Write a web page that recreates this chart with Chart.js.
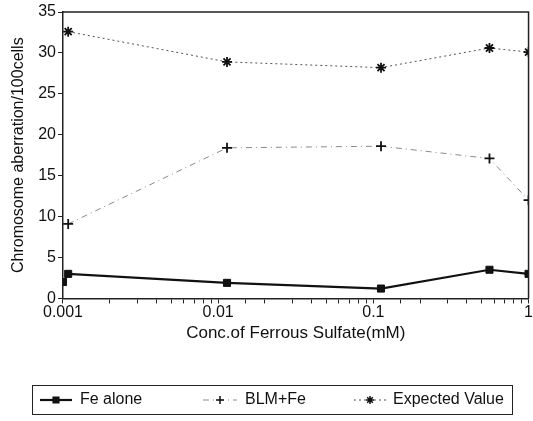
<!DOCTYPE html>
<html>
<head>
<meta charset="utf-8">
<script src="https://cdn.jsdelivr.net/npm/chart.js@4"></script>
<style>
  html, body { margin: 0; padding: 0; background: #fff; }
  #wrap { width: 533px; height: 421px; }
</style>
</head>
<body>
<div id="wrap"><canvas id="myChart" width="533" height="421"></canvas></div>
<script>
// values
const concFe = [0.001, 0.00108, 0.0114, 0.112, 0.56, 1];
const feAlone = [2.0, 3.0, 1.9, 1.2, 3.5, 3.0];
const concBlm = [0.00108, 0.0114, 0.112, 0.56, 1];
const blmFe = [9.1, 18.4, 18.6, 17.1, 12.0];
const expectedValue = [32.6, 28.9, 28.2, 30.6, 30.1];
const yTicks = [0, 5, 10, 15, 20, 25, 30, 35];
const seriesNames = ["Fe alone", "BLM+Fe", "Expected Value"];

const FONT = "'Liberation Sans', Arial, sans-serif";
const pts = (xs, ys) => xs.map((x, i) => ({ x: x, y: ys[i] }));

// frame round the plot area + legend box at the bottom
const framePlugin = {
  id: "frame",
  afterDraw(chart) {
    const ctx = chart.ctx;
    const a = chart.chartArea;
    ctx.save();
    ctx.strokeStyle = "#222";
    ctx.lineWidth = 1.5;
    ctx.beginPath();
    ctx.moveTo(a.left, a.top);
    ctx.lineTo(a.right, a.top);
    ctx.lineTo(a.right, a.bottom);
    ctx.stroke();

    // legend
    ctx.lineWidth = 1;
    ctx.strokeStyle = "#222";
    ctx.strokeRect(32.5, 385.5, 480, 29);
    const y = 400;
    const items = [
      { ds: 0, x1: 40, x2: 72, tx: 80 },
      { ds: 1, x1: 203, x2: 237, tx: 245 },
      { ds: 2, x1: 354, x2: 386, tx: 393 },
    ];
    items.forEach((it) => {
      const ds = chart.data.datasets[it.ds];
      ctx.save();
      ctx.strokeStyle = ds.borderColor;
      ctx.lineWidth = ds.borderWidth;
      ctx.setLineDash(ds.borderDash || []);
      ctx.beginPath();
      ctx.moveTo(it.x1, y);
      ctx.lineTo(it.x2, y);
      ctx.stroke();
      ctx.restore();
      ctx.save();
      ctx.fillStyle = "#111";
      ctx.strokeStyle = "#111";
      ctx.lineWidth = 1.5;
      Chart.helpers.drawPoint(ctx, { pointStyle: ds.pointStyle, radius: ds.pointRadius - 1, rotation: 0, borderWidth: 1.5 }, (it.x1 + it.x2) / 2, y);
      ctx.restore();
      ctx.fillStyle = "#111";
      ctx.font = "16px " + FONT;
      ctx.textBaseline = "middle";
      ctx.fillText(ds.label, it.tx, y);
    });
    ctx.restore();
  },
};

const ctx = document.getElementById("myChart").getContext("2d");
const myChart = new Chart(ctx, {
  type: "line",
  data: {
    datasets: [
      {
        label: seriesNames[0],
        data: pts(concFe, feAlone),
        borderColor: "#111",
        backgroundColor: "#111",
        borderWidth: 2.2,
        pointStyle: "rect",
        pointRadius: 5,
        pointBorderWidth: 1,
      },
      {
        label: seriesNames[1],
        data: pts(concBlm, blmFe),
        borderColor: "#8a8a8a",
        backgroundColor: "#111",
        pointBorderColor: "#111",
        borderWidth: 1,
        borderDash: [6, 4, 1, 4],
        pointStyle: "cross",
        pointRadius: 5,
        pointBorderWidth: 1.8,
      },
      {
        label: seriesNames[2],
        data: pts(concBlm, expectedValue),
        borderColor: "#555",
        backgroundColor: "#111",
        pointBorderColor: "#111",
        borderWidth: 1,
        borderDash: [2, 3],
        pointStyle: "star",
        pointRadius: 5,
        pointBorderWidth: 1.8,
      },
    ],
  },
  options: {
    responsive: false,
    animation: false,
    layout: { autoPadding: false, padding: { top: 12, right: 3, bottom: 77, left: 9 } },
    plugins: {
      legend: { display: false },
      tooltip: { enabled: false },
    },
    scales: {
      x: {
        type: "logarithmic",
        min: 0.001,
        max: 1,
        grid: { drawOnChartArea: false, drawTicks: true, tickLength: 5, color: "#222" },
        border: { color: "#222", width: 1.5 },
        ticks: {
          autoSkip: false,
          maxRotation: 0,
          color: "#111",
          font: { family: FONT, size: 16 },
          padding: 0,
          callback: (v) => {
            const l = Math.log10(v);
            return Math.abs(l - Math.round(l)) < 1e-9 ? String(Number(v.toPrecision(1))) : "";
          },
        },
        title: {
          display: true,
          text: "Conc.of Ferrous Sulfate(mM)",
          color: "#111",
          font: { family: FONT, size: 17 },
          padding: { top: 1, bottom: 0 },
        },
      },
      y: {
        min: yTicks[0],
        max: yTicks[yTicks.length - 1],
        afterBuildTicks: (axis) => {
          axis.ticks = yTicks.map((v) => ({ value: v }));
        },
        grid: { drawOnChartArea: false, drawTicks: true, tickLength: 5, color: "#222" },
        border: { color: "#222", width: 1.5 },
        ticks: {
          color: "#111",
          font: { family: FONT, size: 16 },
          padding: 2,
        },
        title: {
          display: true,
          text: "Chromosome aberration/100cells",
          color: "#111",
          font: { family: FONT, size: 16 },
          padding: { top: 0, bottom: 8 },
        },
      },
    },
  },
  plugins: [framePlugin],
});
</script>
</body>
</html>
